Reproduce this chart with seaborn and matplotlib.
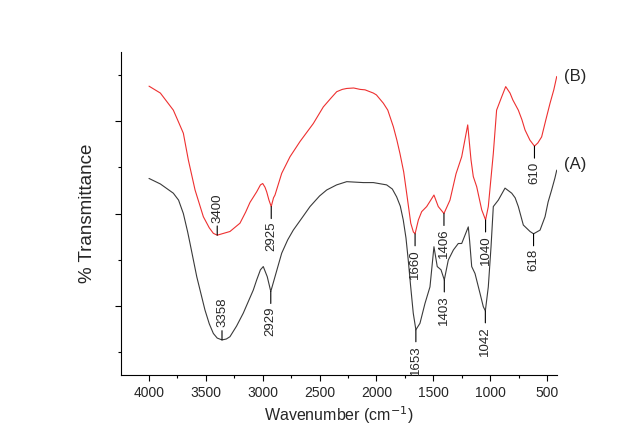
import numpy as np
import pandas as pd
import seaborn as sns
import matplotlib.pyplot as plt
from matplotlib.ticker import MultipleLocator

# FTIR spectrum (B) - red
wn_b = [4000, 3900, 3786, 3740, 3698, 3654, 3595, 3522, 3470, 3434, 3400, 3288,
        3200, 3150, 3112, 3053, 3020, 3000, 2980, 2965, 2945, 2925, 2905, 2892,
        2833, 2760, 2672, 2555, 2467, 2400, 2349, 2300, 2261, 2200, 2144, 2100,
        2027, 2000, 1939, 1900, 1851, 1820, 1793, 1760, 1734, 1698, 1675, 1660,
        1631, 1602, 1558, 1494, 1456, 1406, 1353, 1300, 1250, 1197, 1168, 1148,
        1118, 1074, 1040, 1016, 972, 943, 898, 863, 825, 800, 752, 720, 693, 650,
        610, 580, 547, 510, 473, 440, 414]
t_b = [57.6, 56.1, 52.4, 49.8, 47.4, 41.6, 35.1, 29.3, 26.9, 25.7, 25.3, 26.1,
       27.9, 30.3, 32.4, 34.7, 36.2, 36.5, 35.7, 34.7, 32.9, 31.5, 33.4, 34.0,
       38.7, 42.3, 45.6, 49.5, 53.1, 55.0, 56.4, 56.9, 57.1, 57.2, 56.9, 56.8,
       56.1, 55.7, 53.9, 52.4, 48.8, 45.9, 43.0, 39.0, 34.4, 27.9, 26.0, 25.6,
       28.6, 30.4, 31.5, 34.0, 31.5, 30.0, 32.9, 38.6, 42.3, 49.2, 41.6, 38.0,
       35.8, 30.8, 28.6, 31.5, 43.0, 52.4, 55.3, 57.5, 56.1, 54.6, 52.4, 50.3, 48.1, 45.9,
       44.6, 45.3, 46.6, 50.3, 53.9, 56.8, 59.7]

# FTIR spectrum (A) - black
wn_a = [4000, 3900, 3786, 3740, 3698, 3660, 3639, 3580, 3508, 3470, 3434, 3400,
        3358, 3320, 3288, 3230, 3171, 3120, 3083, 3053, 3020, 2995, 2960, 2929,
        2892, 2833, 2780, 2731, 2650, 2584, 2500, 2437, 2350, 2261, 2115, 2027,
        1910, 1860, 1822, 1790, 1764, 1740, 1720, 1700, 1676, 1653, 1617, 1573,
        1529, 1494, 1465, 1432, 1403, 1368, 1323, 1280, 1250, 1192, 1180, 1162,
        1133, 1089, 1060, 1042, 1016, 992, 972, 928, 869, 810, 780, 752, 708,
        649, 618, 561, 517, 490, 459, 430, 414]
t_a = [37.6, 36.4, 34.4, 32.9, 30.0, 26.0, 23.5, 16.3, 9.1, 6.1, 4.0, 3.0,
       2.6, 2.8, 3.3, 5.6, 8.4, 11.3, 13.4, 15.6, 17.8, 18.5, 16.3, 13.1,
       16.3, 21.4, 24.3, 26.4, 29.2, 31.5, 33.8, 35.1, 36.2, 36.9, 36.7, 36.7,
       36.2, 35.3, 33.6, 31.6, 28.6, 24.7, 19.9, 14.5, 8.4, 4.8, 6.2, 10.5,
       14.1, 22.8, 18.5, 17.8, 15.6, 19.9, 22.1, 23.5, 23.5, 27.1, 24.0, 18.5,
       17.0, 12.7, 9.8, 8.9, 14.1, 22.8, 31.5, 32.9, 35.5, 34.4, 33.4, 31.5, 27.5,
       26.1, 25.6, 26.4, 29.3, 32.5, 35.1, 37.7, 39.4]

# peak labels: (wavenumber, label above the curve?)
peaks_b = [(3400, True), (2925, False), (1660, False), (1406, False), (1040, False), (610, False)]
peaks_a = [(3358, True), (2929, False), (1653, False), (1403, False), (1042, False), (618, False)]

df = pd.concat([
    pd.DataFrame({'wn': wn_b, 'T': t_b, 'sample': 'B'}),
    pd.DataFrame({'wn': wn_a, 'T': t_a, 'sample': 'A'}),
])

sns.set_style('ticks')
plt.rcParams['font.family'] = ['Liberation Sans', 'DejaVu Sans']

fig = plt.figure(figsize=(6.32, 4.46), dpi=100)
ax = fig.add_axes([0.1915, 0.1592, 0.6898, 0.7242])

sns.lineplot(data=df, x='wn', y='T', hue='sample', palette={'B': '#ee3030', 'A': '#3a3a3a'},
             estimator=None, linewidth=0.8, legend=False, ax=ax)

ax.set_xlim(4246, 412)
ax.set_ylim(-5, 65)
ax.xaxis.set_major_locator(MultipleLocator(500))
ax.xaxis.set_minor_locator(MultipleLocator(250))
ax.set_yticks([10, 30, 50])
ax.set_yticks([0, 20, 40, 60], minor=True)
ax.set_yticklabels([])
ax.tick_params(axis='both', which='major', length=4, width=0.8, color='black',
               labelsize=10, direction='out', pad=4)
ax.tick_params(axis='both', which='minor', length=2.5, width=0.8, color='black', direction='out')
sns.despine(ax=ax)
for s in ['left', 'bottom']:
    ax.spines[s].set_color('black')
    ax.spines[s].set_linewidth(0.8)

ax.set_xlabel('Wavenumber (cm$^{-1}$)', fontsize=11.5, labelpad=3)
ax.set_ylabel('% Transmittance', fontsize=13.5, labelpad=10)

for peaks, wn, t in [(peaks_b, wn_b, t_b), (peaks_a, wn_a, t_a)]:
    for w, above in peaks:
        y = np.interp(w, wn[::-1], t[::-1])
        off = 9 if above else -11
        ax.annotate(str(w), xy=(w, y), xytext=(0, off), textcoords='offset points',
                    rotation=90, ha='center', va='bottom' if above else 'top', fontsize=9.5,
                    arrowprops=dict(arrowstyle='-', color='black', lw=0.8, shrinkA=0, shrinkB=0))

ax.annotate('(B)', xy=(wn_b[-1], t_b[-1]), xytext=(5, 0), textcoords='offset points',
            ha='left', va='center', fontsize=12, annotation_clip=False)
ax.annotate('(A)', xy=(wn_a[-1], t_a[-1]), xytext=(5, 4), textcoords='offset points',
            ha='left', va='center', fontsize=12, annotation_clip=False)

fig.savefig('out.png', dpi=100)
